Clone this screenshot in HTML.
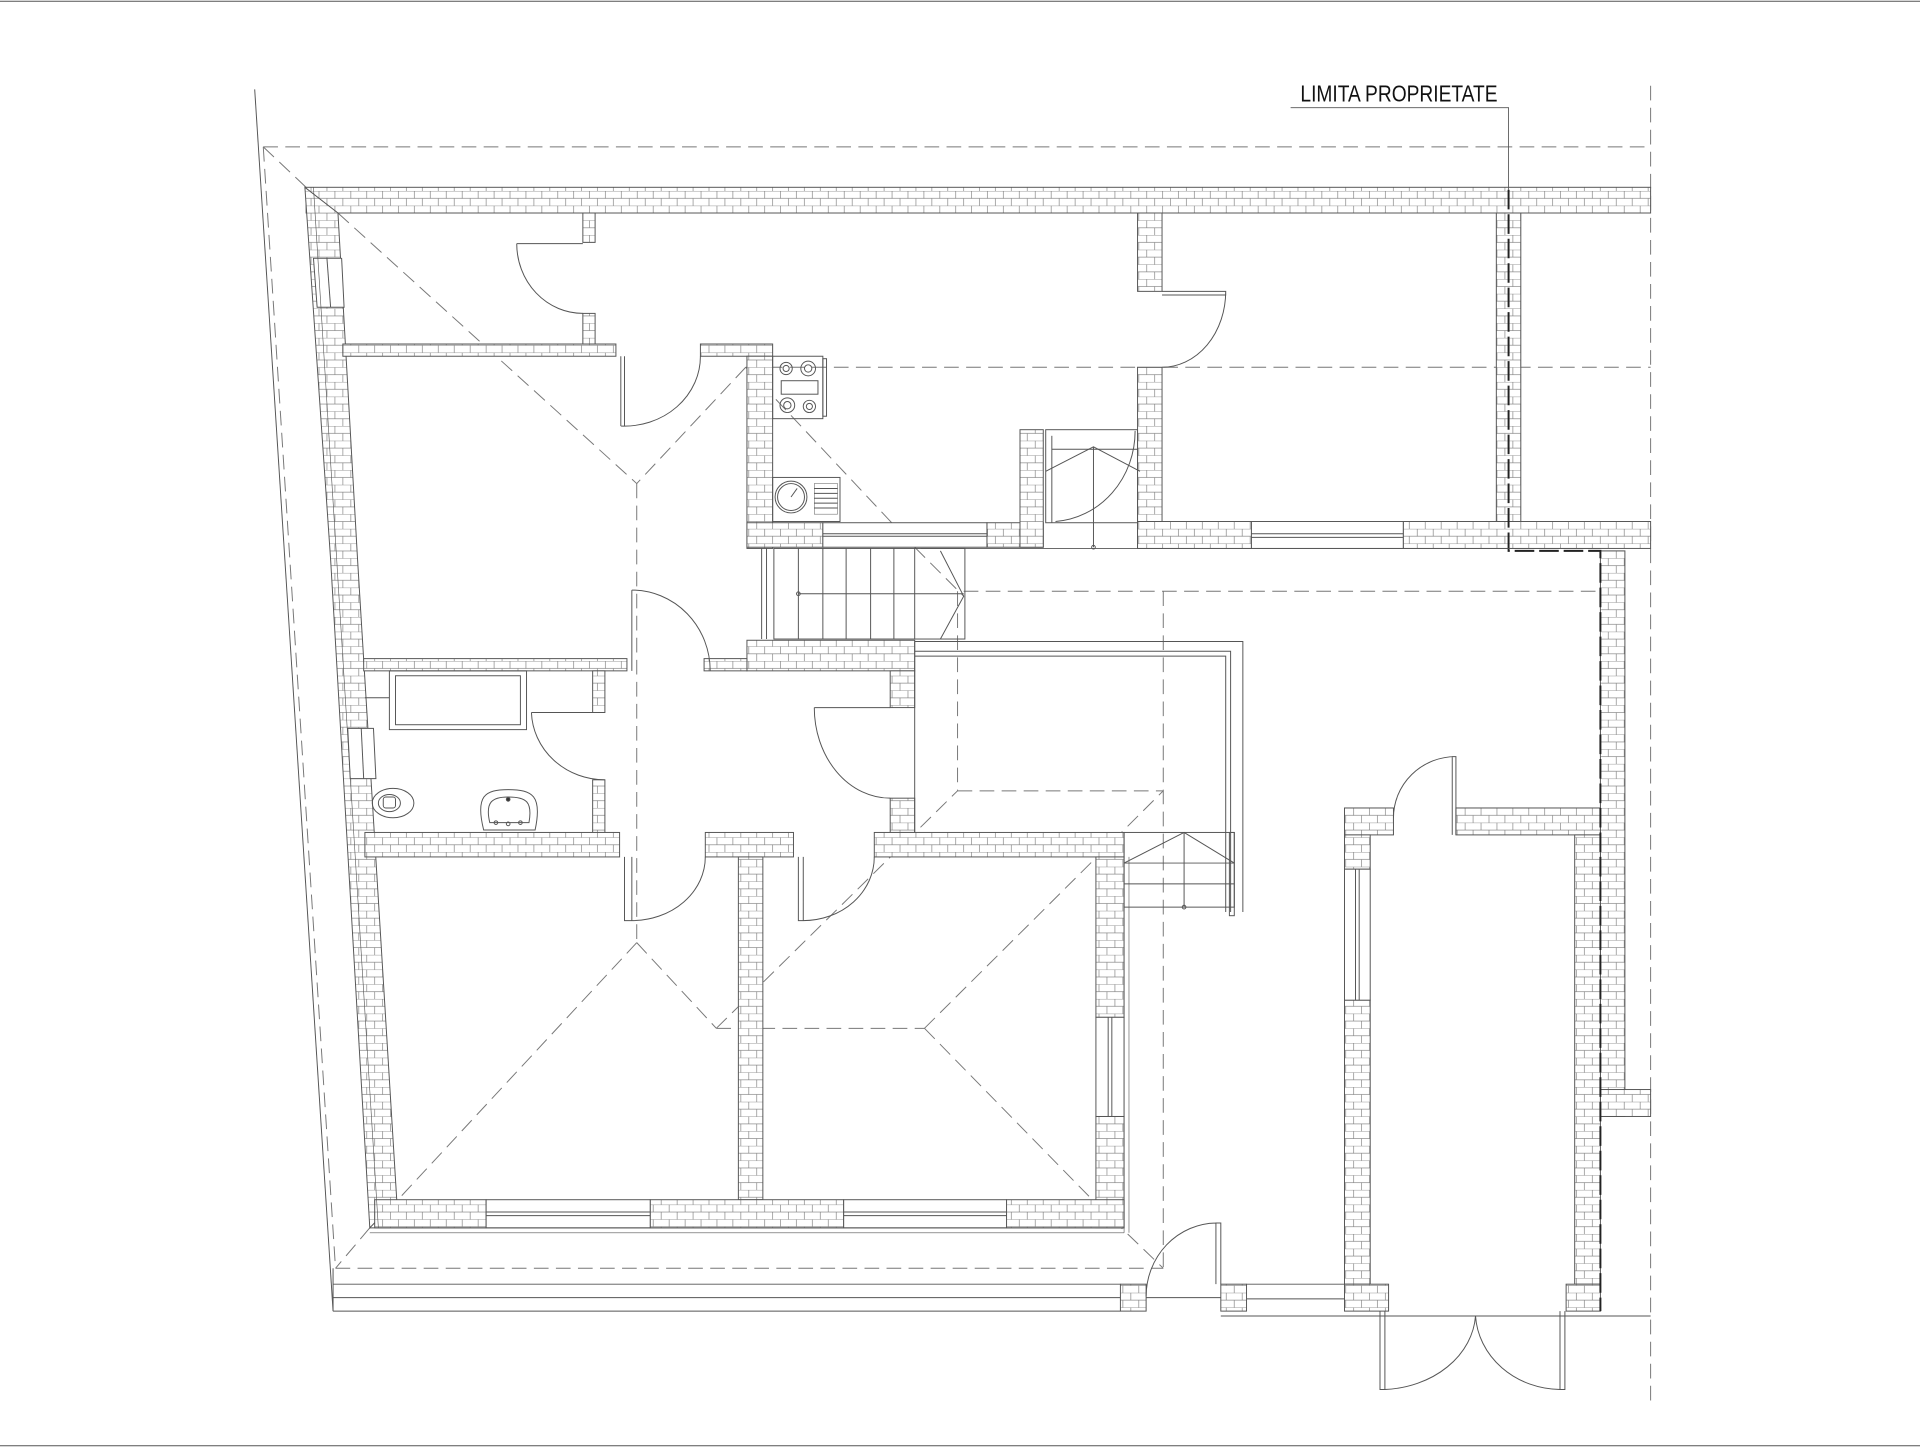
<!DOCTYPE html>
<html><head><meta charset="utf-8"><style>
html,body{margin:0;padding:0;background:#fff;}
svg{display:block;}
</style></head><body>
<svg width="1920" height="1447" viewBox="0 0 1568 1182" preserveAspectRatio="none" xmlns="http://www.w3.org/2000/svg">
<defs>
<pattern id="b" patternUnits="userSpaceOnUse" width="26" height="12">
<rect width="26" height="12" fill="#fff"/>
<path d="M0 0H26M0 6H26M0.5 0V6M13.5 0V6M7 6V12M20 6V12" stroke="#777" stroke-width="0.5" fill="none"/>
</pattern>
</defs>
<rect width="1568" height="1182" fill="#fff"/>
<g fill="none" stroke="#555" stroke-width="0.8">
<line x1="0" y1="1" x2="1568" y2="1"/>
<line x1="0" y1="1181" x2="1568" y2="1181"/>
<line x1="208" y1="73" x2="272" y2="1071"/>
<g stroke-dasharray="12,6" stroke="#777">
<line x1="215" y1="120" x2="1348" y2="120"/>
<line x1="215" y1="120" x2="274" y2="1036"/>
<line x1="1348" y1="70" x2="1348" y2="1150"/>
<line x1="274" y1="1036" x2="950" y2="1036"/>
<line x1="215" y1="120" x2="250" y2="153"/>
<line x1="250" y1="153" x2="276" y2="174"/>
<line x1="276" y1="174" x2="520" y2="395"/>
<line x1="609" y1="300" x2="520" y2="395"/>
<line x1="520" y1="395" x2="520" y2="770"/>
<line x1="520" y1="770" x2="325" y2="980"/>
<line x1="302" y1="1003" x2="274" y2="1036"/>
<line x1="520" y1="770" x2="585" y2="840"/>
<line x1="585" y1="840" x2="755" y2="840"/>
<line x1="585" y1="840" x2="782" y2="646"/>
<line x1="755" y1="840" x2="950" y2="646"/>
<line x1="755" y1="840" x2="895" y2="983"/>
<line x1="895" y1="983" x2="950" y2="1036"/>
<line x1="609" y1="300" x2="747" y2="447"/>
<line x1="747" y1="447" x2="787" y2="487"/>
<line x1="609" y1="300" x2="930" y2="300"/>
<line x1="950" y1="300" x2="1348" y2="300"/>
<line x1="787" y1="483" x2="1305" y2="483"/>
<line x1="782" y1="483" x2="782" y2="646"/>
<line x1="950" y1="483" x2="950" y2="1036"/>
<line x1="782" y1="646" x2="950" y2="646"/>
</g>
<line x1="272" y1="1049" x2="915" y2="1049"/>
<line x1="272" y1="1060" x2="915" y2="1060"/>
<line x1="272" y1="1071" x2="915" y2="1071"/>
<line x1="272" y1="1036" x2="272" y2="1071"/>
<line x1="1018" y1="1049" x2="1098" y2="1049"/>
<line x1="1018" y1="1061" x2="1098" y2="1061"/>
<line x1="997" y1="1075" x2="1348" y2="1075"/>
<line x1="936" y1="1060" x2="997" y2="1060"/>
</g>

<g fill="url(#b)" stroke="#555" stroke-width="0.8">
<rect x="250" y="153" width="1098" height="21"/>
<polygon points="249,153 276,174 292,457 324,980 302,1003 270,457"/>
<rect x="476" y="174" width="10" height="24"/>
<rect x="476" y="256" width="10" height="27"/>
<rect x="280" y="281" width="223" height="10"/>
<rect x="572" y="281" width="59" height="10"/>
<rect x="610" y="291" width="21" height="157"/>
<rect x="610" y="427" width="62" height="20"/>
<rect x="806" y="427" width="46" height="20"/>
<rect x="833" y="351" width="19" height="96"/>
<rect x="929" y="174" width="20" height="64"/>
<rect x="929" y="300" width="20" height="148"/>
<rect x="929" y="426" width="93" height="22"/>
<rect x="1146" y="426" width="202" height="22"/>
<rect x="1222" y="174" width="20" height="252"/>
<rect x="610" y="523" width="137" height="25"/>
<rect x="575" y="538" width="35" height="10"/>
<rect x="297" y="538" width="215" height="10"/>
<rect x="484" y="548" width="10" height="34"/>
<rect x="484" y="637" width="10" height="43"/>
<rect x="727" y="548" width="20" height="30"/>
<rect x="727" y="652" width="20" height="28"/>
<rect x="298" y="680" width="208" height="20"/>
<rect x="576" y="680" width="72" height="20"/>
<rect x="714" y="680" width="204" height="20"/>
<rect x="603" y="700" width="20" height="280"/>
<rect x="895" y="700" width="23" height="131"/>
<rect x="895" y="912" width="23" height="91"/>
<rect x="306" y="980" width="91" height="23"/>
<rect x="531" y="980" width="158" height="23"/>
<rect x="822" y="980" width="96" height="23"/>
<rect x="1307" y="450" width="20" height="462"/>
<rect x="1307" y="890" width="41" height="22"/>
<rect x="1098" y="660" width="40" height="22"/>
<rect x="1189" y="660" width="118" height="22"/>
<rect x="1098" y="682" width="21" height="28"/>
<rect x="1098" y="817" width="21" height="232"/>
<rect x="1286" y="682" width="21" height="367"/>
<rect x="1098" y="1049" width="36" height="22"/>
<rect x="1279" y="1049" width="28" height="22"/>
<rect x="915" y="1049" width="21" height="22"/>
<rect x="997" y="1049" width="21" height="22"/>
</g>

<g fill="#fff" stroke="#555" stroke-width="0.8">
<polygon points="256,211 279,211 281,251 259,251"/>
<line x1="267" y1="211" x2="270" y2="251"/>
<polygon points="284,595 305,595 307,636 286,636"/>
<line x1="295" y1="595" x2="297" y2="636"/>
<rect x="397" y="980" width="134" height="23"/>
<line x1="397" y1="990" x2="531" y2="990"/><line x1="397" y1="993" x2="531" y2="993"/>
<rect x="689" y="980" width="133" height="23"/>
<line x1="689" y1="990" x2="822" y2="990"/><line x1="689" y1="993" x2="822" y2="993"/>
<rect x="895" y="831" width="23" height="81"/>
<line x1="905" y1="831" x2="905" y2="912"/><line x1="908" y1="831" x2="908" y2="912"/>
<rect x="1022" y="426" width="124" height="22"/>
<line x1="1022" y1="436" x2="1146" y2="436"/><line x1="1022" y1="439" x2="1146" y2="439"/>
<rect x="1098" y="710" width="21" height="107"/>
<line x1="1107" y1="710" x2="1107" y2="817"/><line x1="1110" y1="710" x2="1110" y2="817"/>
<rect x="672" y="427" width="134" height="20"/>
<line x1="672" y1="436" x2="806" y2="436"/><line x1="672" y1="438" x2="806" y2="438"/>
</g>

<g fill="none" stroke="#555" stroke-width="0.8">
<path d="M1054 88H1232V155" stroke-width="0.7"/>
<path d="M1232 155V450H1307V1071" stroke="#222" stroke-width="1.6" stroke-dasharray="16,4"/>
<line x1="752" y1="448" x2="1307" y2="448"/>
<path d="M422 199H476M422 199A54 57 0 0 0 476 256"/>
<path d="M507 291V348M510 291V348M507 348A62 57 0 0 0 572 291"/>
<path d="M949 238H1001V241H949M1001 238A52 62 0 0 1 949 300"/>
<path d="M516 548V482M516 482A64 66 0 0 1 580 548"/>
<path d="M494 582H434M434 582A60 57 0 0 0 494 637"/>
<path d="M727 578H665M665 578A62 74 0 0 0 727 652"/>
<path d="M510 700V752H516V700M516 752A60 52 0 0 0 576 700"/>
<path d="M652 700V752H656V700M656 752A58 52 0 0 0 714 700"/>
<path d="M1189 682V618H1186V682M1189 618A51 50 0 0 0 1138 668"/>
<path d="M997 1049V999H993V1049M993 999A58 60 0 0 0 936 1059"/>
<path d="M1127 1071V1135H1131V1071M1131 1135A78 64 0 0 0 1205 1075"/>
<path d="M1278 1071V1135H1274V1071M1274 1135A70 64 0 0 1 1205 1075"/>
<rect x="632" y="448" width="156" height="74"/>
<line x1="622" y1="448" x2="622" y2="522"/><line x1="626" y1="448" x2="626" y2="522"/>
<line x1="652" y1="448" x2="652" y2="522"/><line x1="672" y1="448" x2="672" y2="522"/>
<line x1="691" y1="448" x2="691" y2="522"/><line x1="711" y1="448" x2="711" y2="522"/>
<line x1="730" y1="448" x2="730" y2="522"/><line x1="747" y1="448" x2="747" y2="522"/>
<line x1="652" y1="485" x2="787" y2="485"/>
<circle cx="652" cy="485" r="1.5"/>
<path d="M768 450L787 487L768 522"/>
<path d="M747 524H1015V745"/>
<path d="M747 532H1005V745"/>
<path d="M747 536H1001V745"/>
<line x1="747" y1="524" x2="747" y2="680"/>
<rect x="918" y="680" width="90" height="61"/>
<line x1="918" y1="705" x2="1008" y2="705"/>
<line x1="918" y1="722" x2="1008" y2="722"/>
<path d="M918 705L967 680L1008 705"/>
<line x1="967" y1="680" x2="967" y2="741"/>
<circle cx="967" cy="741" r="1.5"/>
<rect x="1004" y="680" width="4" height="68"/>
<rect x="854" y="351" width="75" height="76"/>
<line x1="859" y1="356" x2="859" y2="427"/>
<line x1="859" y1="367" x2="929" y2="367"/>
<path d="M854 385L893 365L931 385"/>
<line x1="893" y1="365" x2="893" y2="447"/>
<circle cx="893" cy="447" r="1.5"/>
<path d="M927 352A70 74 0 0 1 862 426"/>
<rect x="631" y="291" width="41" height="51"/>
<rect x="672" y="293" width="3" height="47"/>
<circle cx="642" cy="301" r="5"/><circle cx="642" cy="301" r="2.5"/>
<circle cx="660" cy="301" r="6"/><circle cx="660" cy="301" r="3"/>
<circle cx="643" cy="331" r="6"/><circle cx="643" cy="331" r="3"/>
<circle cx="661" cy="332" r="5"/><circle cx="661" cy="332" r="2.5"/>
<rect x="638" y="311" width="30" height="11"/>
<rect x="631" y="390" width="55" height="36"/>
<circle cx="646" cy="406" r="13"/><circle cx="646" cy="406" r="11"/>
<line x1="646" y1="406" x2="651" y2="399"/>
<rect x="665" y="395" width="19" height="25" stroke-width="0.4"/>
<line x1="665" y1="399" x2="684" y2="399"/><line x1="665" y1="403" x2="684" y2="403"/>
<line x1="665" y1="407" x2="684" y2="407"/><line x1="665" y1="411" x2="684" y2="411"/>
<line x1="665" y1="415" x2="684" y2="415"/>
<rect x="318" y="548" width="112" height="48"/>
<rect x="323" y="552" width="102" height="40"/>
<line x1="298" y1="570" x2="318" y2="570"/>
<ellipse cx="321" cy="656" rx="17" ry="12"/>
<ellipse cx="318" cy="656" rx="9" ry="7"/>
<rect x="313" y="651" width="10" height="9" rx="2"/>
<path d="M395 678C388 650 396 645 415 645C435 645 443 650 437 678Z"/>
<path d="M400 672C396 655 402 651 415 651C430 651 435 655 432 672Z"/>
<circle cx="415" cy="653" r="1.5" fill="#333"/>
<circle cx="405" cy="672" r="1.5"/><circle cx="415" cy="673" r="1.5"/><circle cx="425" cy="672" r="1.5"/>
<line x1="256" y1="153" x2="309" y2="1003" stroke-width="0.5"/>
<line x1="302" y1="1003" x2="918" y2="1003"/>
<line x1="302" y1="1007" x2="918" y2="1007" stroke-width="0.5"/>
<line x1="918" y1="680" x2="918" y2="1007" stroke-width="0.5"/>
<line x1="922" y1="700" x2="922" y2="1007" stroke-width="0.5"/>
</g>
<text x="1062" y="83" font-family="Liberation Sans, Arial, sans-serif" font-size="19" fill="#111" textLength="161" lengthAdjust="spacingAndGlyphs">LIMITA PROPRIETATE</text>
</svg>
</body></html>
